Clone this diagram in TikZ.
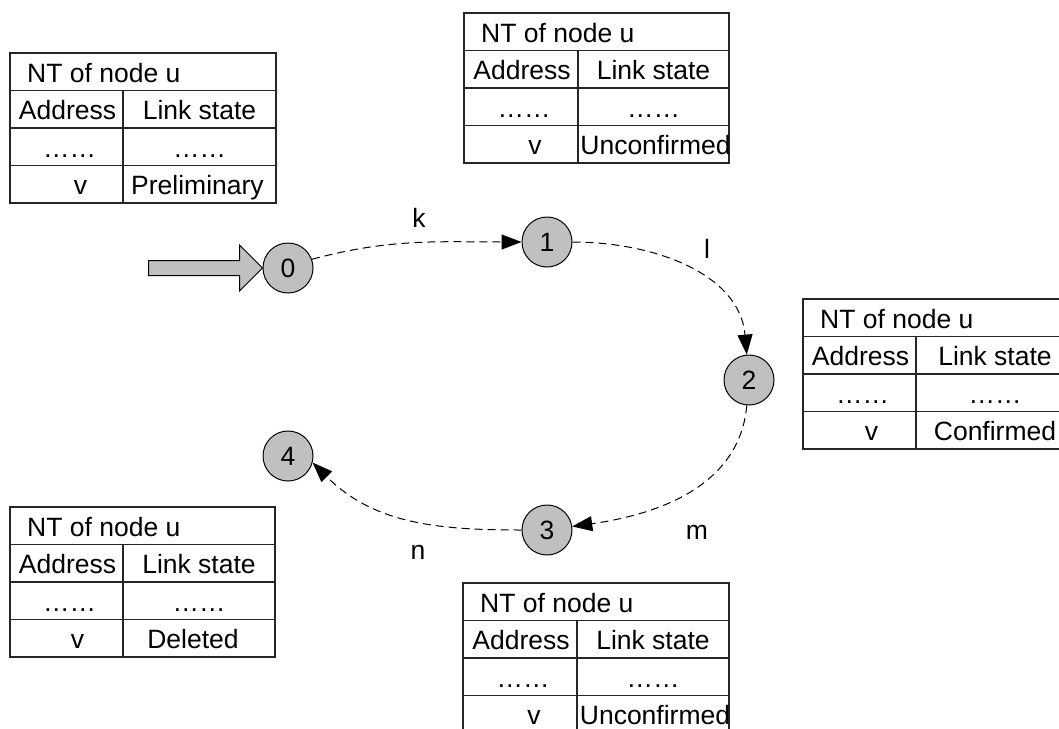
\documentclass[tikz,border=0pt]{standalone}
\usepackage{fontspec}
\setmainfont{Liberation Sans}
\usetikzlibrary{arrows.meta}
\definecolor{nodegray}{HTML}{C0C0C0}
\tikzset{
  state/.style={circle, draw, fill=nodegray, minimum size=50pt, inner sep=0pt, line width=1pt, font=\fontsize{26.5}{31}\selectfont},
  trans/.style={draw, line width=1pt, dash pattern=on 8pt off 5pt, -{Triangle[length=20pt,width=15pt]}},
  lbl/.style={font=\fontsize{26.5}{31}\selectfont, inner sep=0pt},
  tcell/.style={font=\fontsize{26.5}{31}\selectfont, inner sep=0pt, anchor=base},
  tline/.style={line width=1.3pt, draw=black!85},
  blockarrow/.style={draw, fill=nodegray, line width=1pt},
}
% #1 name, #2 left, #3 top, #4 split, #5 right, #6 state text, #7 v offset, #8 state offset
\newcommand\nttab[8]{%
  \draw[tline] (#2,#3) rectangle (#5,#3+150);
  \draw[tline] (#2,#3+37.5) -- (#5,#3+37.5) (#2,#3+75) -- (#5,#3+75) (#2,#3+112.5) -- (#5,#3+112.5);
  \draw[tline] (#4,#3+37.5) -- (#4,#3+150);
  \node[tcell, anchor=base west] (#1-title) at (#2+17,#3+29.5) {NT of node u};
  \node[tcell] (#1-addr) at ({(#2+#4)/2+1},#3+66.5) {Address};
  \node[tcell] (#1-link) at ({(#4+#5)/2},#3+66.5) {Link state};
  \node[tcell] (#1-d1) at ({(#2+#4)/2+3},#3+104) {……};
  \node[tcell] (#1-d2) at ({(#4+#5)/2},#3+104) {……};
  \node[tcell] (#1-v) at ({(#2+#4)/2+#7},#3+141) {v};
  \node[tcell] (#1-s) at ({(#4+#5)/2+#8},#3+141) {#6};
}
\begin{document}
\begin{tikzpicture}[x=1pt,y=-1pt]
\useasboundingbox (0,0) rectangle (1059,728);
\clip (0,0) rectangle (1059,728);

% tables
\nttab{tA}{10}{53}{123}{276}{Preliminary}{14}{-2}
\nttab{tB}{464}{13}{578}{729}{Unconfirmed}{14}{2}
\nttab{tC}{803}{299}{916}{1074}{Confirmed}{12}{0}
\nttab{tD}{10}{507}{123}{275}{Deleted}{11}{-6}
\nttab{tE}{463}{583}{577}{729}{Unconfirmed}{14}{2}

% states
\node[state] (n0) at (288,268) {0};
\node[state] (n1) at (547,242) {1};
\node[state] (n2) at (749,380) {2};
\node[state] (n3) at (547,530) {3};
\node[state] (n4) at (288,456) {4};

% entry block arrow
\draw[blockarrow] (n0.west) -- ++(-23,-23) -- ++(0,15.5) -- ++(-91,0) -- ++(0,15) -- ++(91,0) -- ++(0,15.5) -- cycle;

% transitions
\draw[trans] (n0.20) to[out=15,in=180] (n1);
\draw[trans] (n1) to[out=0,in=95] (n2);
\draw[trans] (n2) to[out=-95,in=8] (n3);
\draw[trans] (n3) to[out=180,in=-45] (n4.-15);

% labels
\node[lbl] (lk) at (419,218) {k};
\node[lbl] (ll) at (707,249) {l};
\node[lbl] (lm) at (697,532) {m};
\node[lbl] (ln) at (418,552) {n};
\end{tikzpicture}
\end{document}
